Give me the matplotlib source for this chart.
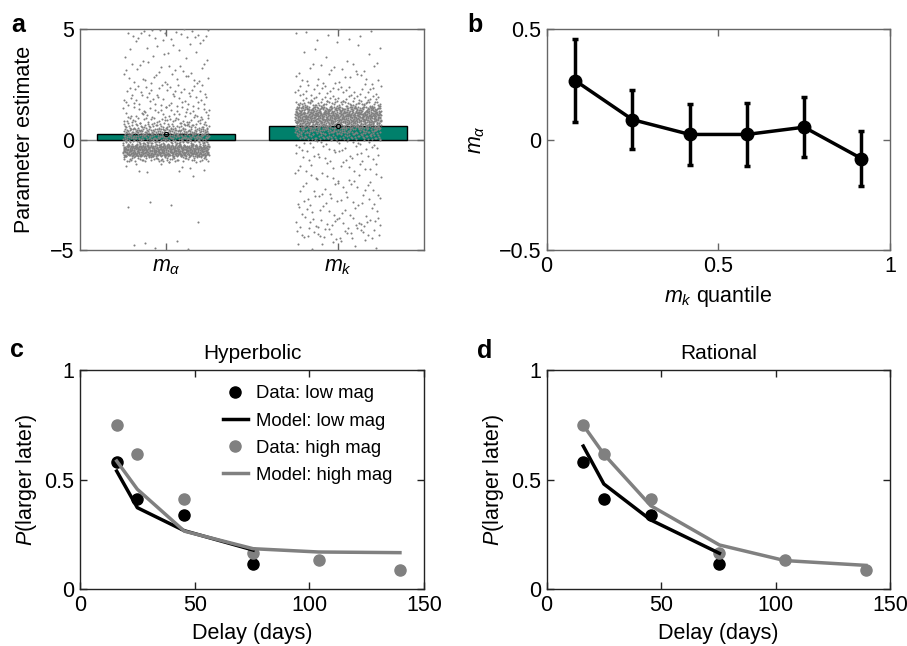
import numpy as np
import matplotlib
matplotlib.use("Agg")
import matplotlib.pyplot as plt
from matplotlib.lines import Line2D

plt.rcParams['font.family'] = ['Liberation Sans', 'DejaVu Sans']
plt.rcParams['mathtext.fontset'] = 'custom'
plt.rcParams['mathtext.rm'] = 'Liberation Sans'
plt.rcParams['mathtext.it'] = 'Liberation Sans:italic'
plt.rcParams['mathtext.bf'] = 'Liberation Sans:bold'
plt.rcParams['axes.unicode_minus'] = True

# ---------------- data ----------------
# panel a
param_names = ['$m_\\alpha$', '$m_k$']
param_means = [0.25, 0.6]
# histogram of individual estimates (counts per y-bin, read off the cloud)
bin_edges = [-5, -4.5, -4, -3.5, -3, -2.5, -2, -1.5, -1, -0.75, -0.5, -0.25, 0,
             0.25, 0.5, 0.75, 1, 1.25, 1.5, 1.75, 2, 2.5, 3, 3.5, 4, 4.5, 5]
counts_malpha = [5, 0, 1, 1, 2, 0, 1, 10, 60, 250, 250, 80, 120,
                 110, 60, 35, 22, 18, 15, 15, 25, 18, 14, 8, 8, 22]
counts_mk = [8, 25, 25, 15, 18, 15, 15, 15, 10, 10, 12, 18, 60,
             90, 150, 200, 220, 150, 60, 25, 30, 15, 12, 4, 4, 8]

# panel b
quantiles = [0.083, 0.25, 0.417, 0.583, 0.75, 0.917]
malpha_q = [0.267, 0.09, 0.023, 0.023, 0.056, -0.086]
malpha_err = [0.187, 0.132, 0.138, 0.142, 0.137, 0.124]

# panels c, d
delays = [16, 25, 45.5, 75.5, 104, 139.5]
data_low = [0.579, 0.412, 0.339, 0.114]
data_high = [0.748, 0.616, 0.41, 0.164, 0.132, 0.088]
hyp_low = [0.539, 0.372, 0.267, 0.179]
hyp_high = [0.585, 0.456, 0.265, 0.185, 0.17, 0.167]
rat_low = [0.653, 0.48, 0.316, 0.164]
rat_high = [0.748, 0.616, 0.381, 0.202, 0.131, 0.109]

# ---------------- style ----------------
GREEN = '#00806b'
GRAY = '#808080'
TICK_FS = 15.5
LAB_FS = 15.5

fig = plt.figure(figsize=(9.07, 6.46), dpi=100)

def style_ax(ax, spine_color):
    for s in ax.spines.values():
        s.set_color(spine_color)
        s.set_linewidth(1.0)
    ax.tick_params(direction='in', top=True, right=True, length=5,
                   width=1.0, color=spine_color, labelsize=TICK_FS, pad=4)

def halton(k, base):
    f, r = 1.0, 0.0
    while k > 0:
        f /= base
        r += f * (k % base)
        k //= base
    return r

# ---------------- panel a ----------------
axa = fig.add_axes([0.0882, 0.613, 0.3793, 0.342])
xpos = [1, 2]
axa.bar(xpos, param_means, width=0.8, color=GREEN, edgecolor='black',
        linewidth=1.0, zorder=2)
axa.axhline(0, color=GRAY, lw=1.0, zorder=1)
for gi, (xc, cnts) in enumerate(zip(xpos, [counts_malpha, counts_mk])):
    xs, ys = [], []
    k = 1 + gi * 5000
    for lo, hi, n in zip(bin_edges[:-1], bin_edges[1:], cnts):
        for i in range(n):
            k += 1
            u = halton(k, 2)
            v = halton(k, 3)
            xs.append(xc + (u - 0.5) * 0.5)
            ys.append(lo + v * (hi - lo))
    axa.scatter(xs, ys, s=2.2, color=GRAY, linewidths=0, zorder=3)
axa.plot(xpos, param_means, 'o', ms=3, mfc='none', mec='black', mew=0.8, zorder=4)
axa.set_xlim(0.5, 2.5)
axa.set_ylim(-5, 5)
axa.set_xticks(xpos)
axa.set_xticklabels(param_names, fontsize=17)
axa.set_yticks([-5, 0, 5])
axa.set_ylabel('Parameter estimate', fontsize=LAB_FS, labelpad=11)
style_ax(axa, '#666666')

# ---------------- panel b ----------------
axb = fig.add_axes([0.6027, 0.613, 0.3785, 0.342])
axb.errorbar(quantiles, malpha_q, yerr=malpha_err, color='black', lw=2.5,
             elinewidth=2.5, capsize=2.5, capthick=2.5, marker='o', ms=9)
axb.set_xlim(0, 1)
axb.set_ylim(-0.5, 0.5)
axb.set_xticks([0, 0.5, 1])
axb.set_xticklabels(['0', '0.5', '1'])
axb.set_yticks([-0.5, 0, 0.5])
axb.set_yticklabels(['\u22120.5', '0', '0.5'])
axb.set_xlabel('$m_k$ quantile', fontsize=LAB_FS, labelpad=5)
axb.set_ylabel('$m_\\alpha$', fontsize=LAB_FS, labelpad=8.5)
style_ax(axb, '#666666')

# ---------------- panels c, d ----------------
def delay_panel(rect, model_low, model_high, title, legend=False):
    ax = fig.add_axes(rect)
    n_low = len(data_low)
    ax.plot(delays[:n_low], data_low, 'o', color='black', ms=8, zorder=3)
    ax.plot(delays, data_high, 'o', color=GRAY, ms=8, zorder=3)
    ax.plot(delays[:n_low], model_low, '-', color='black', lw=2.5, zorder=4)
    ax.plot(delays, model_high, '-', color=GRAY, lw=2.5, zorder=5)
    ax.set_xlim(0, 150)
    ax.set_ylim(0, 1)
    ax.set_xticks([0, 50, 100, 150])
    ax.set_yticks([0, 0.5, 1])
    ax.set_yticklabels(['0', '0.5', '1'])
    ax.set_xlabel('Delay (days)', fontsize=LAB_FS, labelpad=5)
    ax.set_ylabel('$P$(larger later)', fontsize=LAB_FS, labelpad=4)
    ax.set_title(title, fontsize=15, pad=8)
    style_ax(ax, '#222222')
    if legend:
        handles = [
            Line2D([], [], ls='none', marker='o', color='black', ms=8),
            Line2D([], [], ls='-', color='black', lw=2.5),
            Line2D([], [], ls='none', marker='o', color=GRAY, ms=8),
            Line2D([], [], ls='-', color=GRAY, lw=2.5),
        ]
        labels = ['Data: low mag', 'Model: low mag', 'Data: high mag', 'Model: high mag']
        ax.legend(handles, labels, loc='upper right', bbox_to_anchor=(0.94, 0.98),
                  frameon=False, fontsize=13.3, handlelength=1.35, handletextpad=0.45,
                  labelspacing=0.55, borderaxespad=0.2)
    return ax

axc = delay_panel([0.0882, 0.0878, 0.3793, 0.3395], hyp_low, hyp_high,
                  'Hyperbolic', legend=True)
axd = delay_panel([0.6027, 0.0878, 0.3785, 0.3395], rat_low, rat_high,
                  'Rational')

# panel letters
for txt, x, y in [('a', 11, 32), ('b', 467, 32), ('c', 10, 357), ('d', 477, 358)]:
    fig.text(x / 907, 1 - y / 646, txt, fontsize=18, fontweight='bold',
             va='baseline', ha='left')

fig.savefig('out.png', dpi=100)
